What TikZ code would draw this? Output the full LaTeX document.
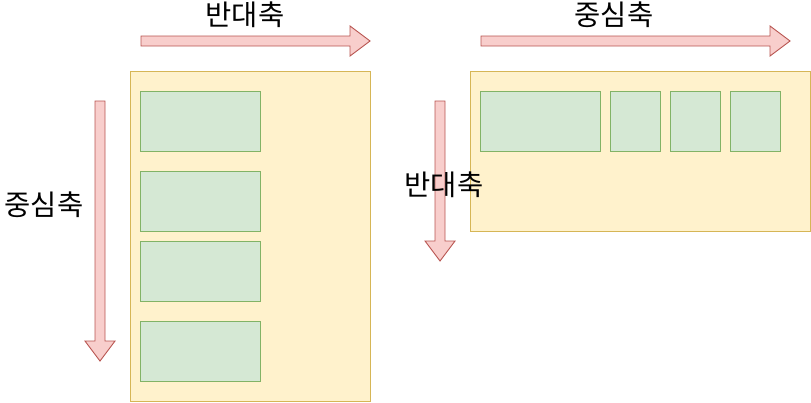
\documentclass[tikz,border=0pt]{standalone}
\usepackage{fontspec}
\newfontfamily\kofont{Noto Sans CJK KR}
\usepackage{tikz}

\definecolor{panelfill}{HTML}{FFF2CC}
\definecolor{panelline}{HTML}{D6B656}
\definecolor{cellfill}{HTML}{D5E8D4}
\definecolor{cellline}{HTML}{82B366}
\definecolor{barfill}{HTML}{F8CECC}
\definecolor{barline}{HTML}{B85450}

\begin{document}
\begin{tikzpicture}
	[
	x=1pt, y=-1pt,
	panel/.style={draw=panelline, fill=panelfill, line width=0.8pt, inner sep=0pt, anchor=north west},
	cell/.style={draw=cellline, fill=cellfill, line width=0.8pt, inner sep=0pt, anchor=north west, minimum height=60pt},
	bar/.style={draw=barline, fill=barfill, line width=0.9pt, line join=miter},
	lbl/.style={font=\kofont\fontsize{28.5}{28.5}\selectfont, inner sep=0pt},
	]
		\useasboundingbox (0,0) rectangle (811,402);
		
		% left layout
		\node[panel, minimum width=240pt, minimum height=330pt] (lp) at (130,71) {};
		\foreach \i/\y in {1/91,2/171,3/241,4/321}
			\node[cell, minimum width=120pt] (l\i) at (140,\y) {};
		
		% right layout
		\node[panel, minimum width=340pt, minimum height=160pt] (rp) at (470,71) {};
		\node[cell, minimum width=120pt] (r1) at (480,91) {};
		\foreach \i/\x in {2/610,3/670,4/730}
			\node[cell, minimum width=50pt] (r\i) at (\x,91) {};
		
		% axis arrows
		\draw[bar] (141,36) -- (350,36) -- (350,26) -- (370,41) -- (350,56) -- (350,46) -- (141,46) -- cycle;
		\draw[bar] (95,101) -- (105,101) -- (105,341) -- (115,341) -- (100,361) -- (85,341) -- (95,341) -- cycle;
		\draw[bar] (481,36) -- (770,36) -- (770,26) -- (790,41) -- (770,56) -- (770,46) -- (481,46) -- cycle;
		\draw[bar] (435,101) -- (445,101) -- (445,241) -- (455,241) -- (440,261) -- (425,241) -- (435,241) -- cycle;
		
		% labels
		\node[lbl] (lcross) at (245,15) {반대축};
		\node[lbl] (lmain)  at (44,205) {중심축};
		\node[lbl] (rmain)  at (614,15) {중심축};
		\node[lbl] (rcross) at (444,185) {반대축};
		
	\end{tikzpicture}
\end{document}
